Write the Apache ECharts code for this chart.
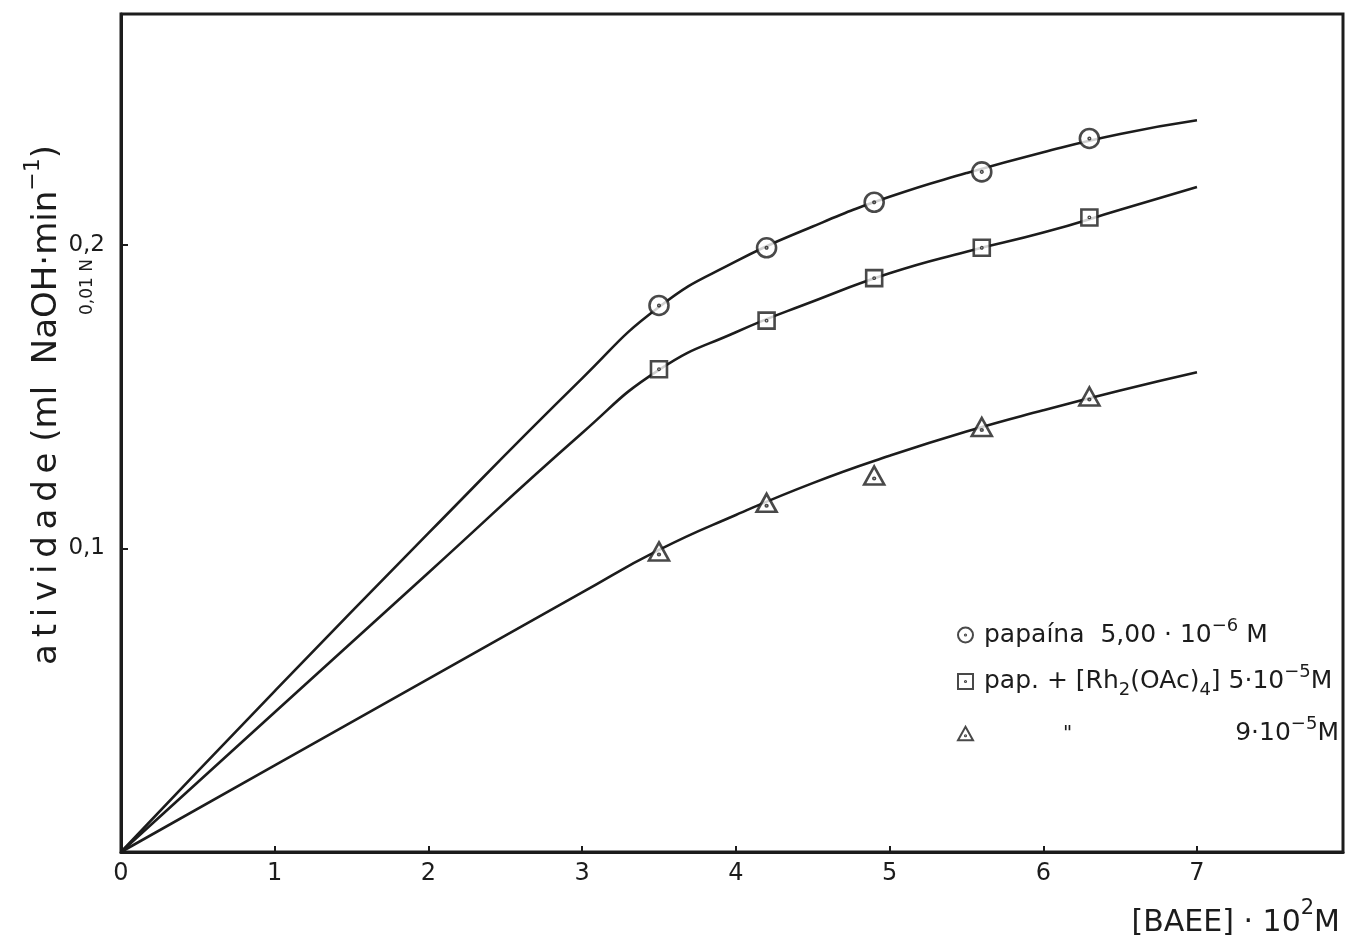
<!DOCTYPE html>
<html>
<head>
<meta charset="utf-8">
<title>atividade da papaína vs [BAEE]</title>
<script src="https://cdn.jsdelivr.net/npm/echarts@6/dist/echarts.min.js"></script>
<style>
  html, body { margin: 0; padding: 0; background: #ffffff; }
  #chart { width: 1346px; height: 947px; }
</style>
</head>
<body>
<div id="chart"></div>
<script>
// [BAEE]·10^2 M at which the activity was measured
const substrateConc = [3.5, 4.2, 4.9, 5.6, 6.3];

// measured activity (ml NaOH 0,01 N · min^-1)
const papainOnly = [0.180, 0.199, 0.214, 0.224, 0.235];
const papainRh5  = [0.159, 0.175, 0.189, 0.199, 0.209];
const papainRh9  = [0.099, 0.115, 0.124, 0.140, 0.150];

// hand-drawn fitted curves, read along [BAEE]
const curveX      = [0, 1, 2, 3, 3.5, 4, 4.5, 5, 5.5, 6, 6.5, 7];
const curvePapain = [0, 0.053, 0.105, 0.156, 0.1795, 0.1945, 0.206, 0.2158, 0.2236, 0.2305, 0.2365, 0.241];
const curveRh5    = [0, 0.046, 0.092, 0.138, 0.1588, 0.1712, 0.1813, 0.1906, 0.1977, 0.204, 0.2115, 0.219];
const curveRh9    = [0, 0.0285, 0.057, 0.0855, 0.0995, 0.111, 0.1215, 0.1305, 0.1385, 0.1455, 0.152, 0.158];

// axis tick labels
const xTickLabels = ['0', '1', '2', '3', '4', '5', '6', '7'];
const yTickLabels = { '0.1': '0,1', '0.2': '0,2' };

const seriesNames = [
  'papaína 5,00·10⁻⁶ M',
  'pap. + [Rh₂(OAc)₄] 5·10⁻⁵ M',
  '" 9·10⁻⁵ M'
];

const ink = '#1c1c1c';
const font = 'DejaVu Sans';

// open markers with a centre dot
const symCircle = 'path://M10,0A10,10,0,1,1,10,20A10,10,0,1,1,10,0ZM10,9.2A0.8,0.8,0,1,1,10,10.8A0.8,0.8,0,1,1,10,9.2Z';
const symSquare = 'path://M0,0H20V20H0ZM10,9.2A0.8,0.8,0,1,1,10,10.8A0.8,0.8,0,1,1,10,9.2Z';
const symTriangle = 'path://M10,0L20,18H0ZM10,11.2A0.8,0.8,0,1,1,10,12.8A0.8,0.8,0,1,1,10,11.2Z';

function zipXY(xs, ys) {
  return xs.map((x, i) => [x, ys[i]]);
}

function curveSeries(ys) {
  return {
    type: 'line',
    data: zipXY(curveX, ys),
    smooth: 0.5,
    showSymbol: false,
    symbol: 'none',
    lineStyle: { color: ink, width: 2.6 },
    silent: true,
    z: 2
  };
}
function markerSeries(name, ys, sym, size) {
  return {
    name: name,
    type: 'scatter',
    data: zipXY(substrateConc, ys),
    symbol: sym,
    symbolSize: size,
    itemStyle: { color: '#ffffff', borderColor: ink, borderWidth: 2.6 },
    z: 3
  };
}

const legendRich = {
  t:    { fontFamily: font, fontSize: 25, color: ink, lineHeight: 36, verticalAlign: 'middle' },
  sup:  { fontFamily: font, fontSize: 18, color: ink, lineHeight: 36, verticalAlign: 'top' },
  sub:  { fontFamily: font, fontSize: 18, color: ink, lineHeight: 36, verticalAlign: 'bottom' },
  q:    { fontFamily: font, fontSize: 20, color: ink, lineHeight: 36 },
  gap1: { fontFamily: font, fontSize: 25, color: ink, lineHeight: 36, width: 79 },
  gap2: { fontFamily: font, fontSize: 25, color: ink, lineHeight: 36, width: 163 }
};
const legendText = {};
legendText[seriesNames[0]] = '{t|papaína  5,00 · 10}{sup|−6}{t| M}';
legendText[seriesNames[1]] = '{t|pap. + [Rh}{sub|2}{t|(OAc)}{sub|4}{t|] 5·10}{sup|−5}{t|M}';
legendText[seriesNames[2]] = '{gap1|}{q|"}{gap2|}{t|9·10}{sup|−5}{t|M}';

// y-axis title, letters of "atividade" spaced out
const thin = '\u2009';
const yTitleWord = 'atividade'.split('').join(thin);

const chart = echarts.init(document.getElementById('chart'), null, { renderer: 'canvas' });

chart.setOption({
  backgroundColor: '#ffffff',
  animation: false,
  grid: {
    left: 121, top: 14, right: 3, bottom: 95,
    show: true, borderColor: ink, borderWidth: 3, backgroundColor: 'transparent'
  },
  xAxis: {
    type: 'value',
    min: 0, max: 7.95, interval: 1,
    axisLine: { show: true, onZero: false, lineStyle: { color: ink, width: 3 } },
    axisTick: { show: true, inside: true, length: 6, lineStyle: { color: ink, width: 2 } },
    splitLine: { show: false },
    axisLabel: {
      margin: 10,
      fontFamily: font, fontSize: 24, color: ink,
      formatter: function (v) {
        const i = Math.round(v);
        return Math.abs(v - i) < 1e-6 && xTickLabels[i] !== undefined ? xTickLabels[i] : '';
      }
    }
  },
  yAxis: {
    type: 'value',
    min: 0, max: 0.276, interval: 0.1,
    axisLine: { show: true, onZero: false, lineStyle: { color: ink, width: 3 } },
    axisTick: { show: true, inside: true, length: 7, lineStyle: { color: ink, width: 2 } },
    splitLine: { show: false },
    axisLabel: {
      margin: 16,
      fontFamily: font, fontSize: 23, color: ink,
      formatter: function (v) {
        const key = (Math.round(v * 10) / 10).toFixed(1);
        return Math.abs(v - Number(key)) < 1e-6 && yTickLabels[key] ? yTickLabels[key] : '';
      }
    }
  },
  legend: {
    data: seriesNames,
    orient: 'vertical',
    left: 952, top: 612,
    itemWidth: 15, itemHeight: 15,
    itemGap: 16,
    selectedMode: false,
    formatter: function (name) { return legendText[name]; },
    textStyle: { fontFamily: font, fontSize: 25, color: ink, rich: legendRich, padding: [0, 0, 0, 6] }
  },
  graphic: [
    {
      type: 'text',
      x: 47, y: 405,
      rotation: Math.PI / 2,
      style: {
        text: '{t|' + yTitleWord + ' (ml  NaOH·min}{sup|−1}{t|)}',
        align: 'center',
        verticalAlign: 'middle',
        rich: {
          t:   { fontFamily: font, fontSize: 34, fill: ink, lineHeight: 50, verticalAlign: 'middle' },
          sup: { fontFamily: font, fontSize: 22, fill: ink, lineHeight: 50, verticalAlign: 'top' }
        }
      }
    },
    {
      type: 'text',
      x: 88, y: 287,
      rotation: Math.PI / 2,
      style: {
        text: '0,01 N',
        align: 'center',
        verticalAlign: 'middle',
        fontFamily: font, fontSize: 17, fill: ink
      }
    },
    {
      type: 'text',
      right: 6, top: 898,
      style: {
        text: '{t|[BAEE] · 10}{sup|2}{t|M}',
        rich: {
          t:   { fontFamily: font, fontSize: 30, fill: ink, lineHeight: 40, verticalAlign: 'bottom' },
          sup: { fontFamily: font, fontSize: 21, fill: ink, lineHeight: 28, verticalAlign: 'top' }
        }
      }
    }
  ],
  series: [
    curveSeries(curvePapain),
    curveSeries(curveRh5),
    curveSeries(curveRh9),
    markerSeries(seriesNames[0], papainOnly, symCircle, 19),
    markerSeries(seriesNames[1], papainRh5, symSquare, 16),
    markerSeries(seriesNames[2], papainRh9, symTriangle, [20, 18])
  ]
});
</script>
</body>
</html>
